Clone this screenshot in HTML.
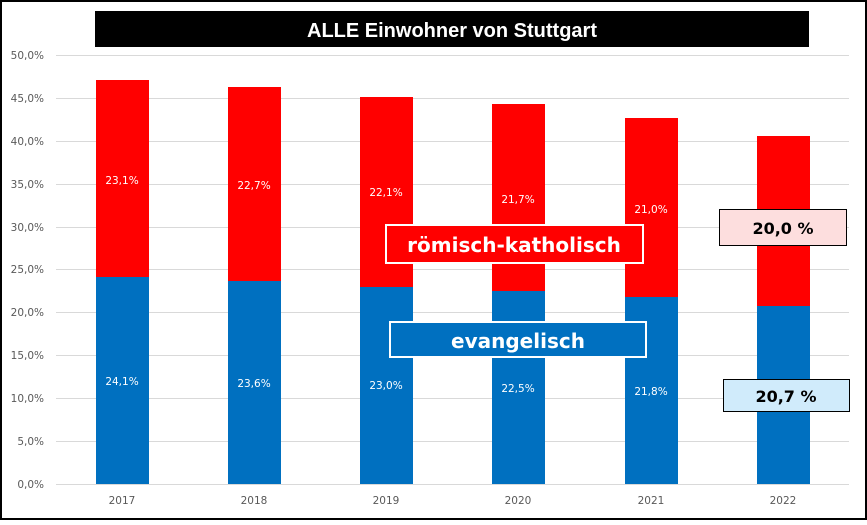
<!DOCTYPE html>
<html><head><meta charset="utf-8"><style>
body{margin:0;background:#fff}
svg text{font-family:"DejaVu Sans","Liberation Sans",sans-serif}
</style></head><body>
<svg width="867" height="520" xmlns="http://www.w3.org/2000/svg">
<rect x="1" y="1" width="865" height="518" fill="#fff" stroke="#000" stroke-width="2"/>
<g stroke="#d9d9d9" stroke-width="1">
<line x1="56" x2="849" y1="55.5" y2="55.5"/><line x1="56" x2="849" y1="98.5" y2="98.5"/>
<line x1="56" x2="849" y1="141.5" y2="141.5"/><line x1="56" x2="849" y1="184.5" y2="184.5"/>
<line x1="56" x2="849" y1="227.5" y2="227.5"/><line x1="56" x2="849" y1="269.5" y2="269.5"/>
<line x1="56" x2="849" y1="312.5" y2="312.5"/><line x1="56" x2="849" y1="355.5" y2="355.5"/>
<line x1="56" x2="849" y1="398.5" y2="398.5"/><line x1="56" x2="849" y1="441.5" y2="441.5"/>
<line x1="56" x2="849" y1="484.5" y2="484.5"/>
</g>
<g font-size="10.5" fill="#595959" text-anchor="end">
<text x="44" y="59">50,0%</text><text x="44" y="102">45,0%</text><text x="44" y="145">40,0%</text>
<text x="44" y="188">35,0%</text><text x="44" y="231">30,0%</text><text x="44" y="273">25,0%</text>
<text x="44" y="316">20,0%</text><text x="44" y="359">15,0%</text><text x="44" y="402">10,0%</text>
<text x="44" y="445">5,0%</text><text x="44" y="488">0,0%</text>
</g>
<g>
<rect x="96" y="80" width="53" height="198" fill="#ff0000"/><rect x="96" y="277" width="53" height="207" fill="#0070c0"/>
<rect x="228" y="87" width="53" height="195" fill="#ff0000"/><rect x="228" y="281" width="53" height="203" fill="#0070c0"/>
<rect x="360" y="97" width="53" height="190" fill="#ff0000"/><rect x="360" y="287" width="53" height="197" fill="#0070c0"/>
<rect x="492" y="104" width="53" height="187" fill="#ff0000"/><rect x="492" y="291" width="53" height="193" fill="#0070c0"/>
<rect x="625" y="118" width="53" height="180" fill="#ff0000"/><rect x="625" y="297" width="53" height="187" fill="#0070c0"/>
<rect x="757" y="136" width="53" height="172" fill="#ff0000"/><rect x="757" y="306" width="53" height="178" fill="#0070c0"/>
</g>
<g font-size="10.5" fill="#fff" text-anchor="middle">
<text x="122" y="184">23,1%</text><text x="122" y="385">24,1%</text>
<text x="254" y="189">22,7%</text><text x="254" y="387">23,6%</text>
<text x="386" y="196">22,1%</text><text x="386" y="389">23,0%</text>
<text x="518" y="203">21,7%</text><text x="518" y="392">22,5%</text>
<text x="651" y="213">21,0%</text><text x="651" y="395">21,8%</text>
</g>
<g font-size="10.5" fill="#595959" text-anchor="middle">
<text x="122" y="504">2017</text><text x="254" y="504">2018</text><text x="386" y="504">2019</text>
<text x="518" y="504">2020</text><text x="651" y="504">2021</text><text x="783" y="504">2022</text>
</g>
<rect x="95" y="11" width="714" height="36" fill="#000"/>
<text x="452" y="37" font-size="20" font-weight="bold" fill="#fff" text-anchor="middle" style="font-family:'Liberation Sans',sans-serif">ALLE Einwohner von Stuttgart</text>
<rect x="386" y="225" width="257" height="38" fill="#ff0000" stroke="#fff" stroke-width="2"/>
<text x="514" y="252" font-size="20" font-weight="bold" fill="#fff" text-anchor="middle">römisch-katholisch</text>
<rect x="390" y="322" width="256" height="35" fill="#0070c0" stroke="#fff" stroke-width="2"/>
<text x="518" y="348" font-size="20" font-weight="bold" fill="#fff" text-anchor="middle">evangelisch</text>
<rect x="719.5" y="209.5" width="127" height="36" fill="#fddede" stroke="#000" stroke-width="1"/>
<text x="783" y="234" font-size="16" font-weight="bold" fill="#000" text-anchor="middle">20,0 %</text>
<rect x="723.5" y="379.5" width="126" height="32" fill="#d0ebfb" stroke="#000" stroke-width="1"/>
<text x="786" y="402" font-size="16" font-weight="bold" fill="#000" text-anchor="middle">20,7 %</text>
</svg>
</body></html>
